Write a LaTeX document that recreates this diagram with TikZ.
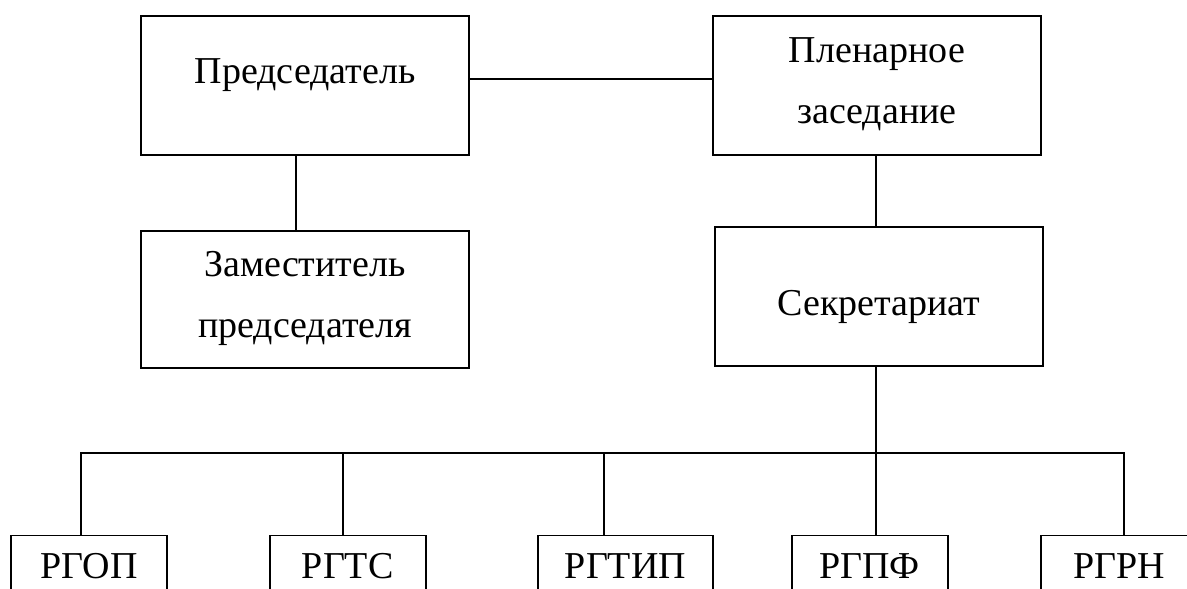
\documentclass[tikz,border=0pt]{standalone}
\usepackage{fontspec}
\setmainfont{Liberation Serif}
\begin{document}
\begin{tikzpicture}[x=1pt,y=-1pt,
  box/.style={draw, line width=1.9pt, inner sep=0pt, font=\fontsize{38}{61}\selectfont},
  link/.style={line width=1.9pt}]
\useasboundingbox (0,0) rectangle (1187,589);
\clip (0,0) rectangle (1187,589);
% upper boxes
\node[box, minimum width=328pt, text height=67pt, text depth=72pt] (pred) at (305,85.5) {Председатель};
\node[box, minimum width=328pt, text height=46pt, text depth=93pt] (plen) at (877,85.5)
  {\begin{tabular}[t]{@{}c@{}}Пленарное\\заседание\end{tabular}};
\node[box, minimum width=328pt, text height=45pt, text depth=92pt] (zam) at (305,299.5)
  {\begin{tabular}[t]{@{}c@{}}Заместитель\\председателя\end{tabular}};
\node[box, minimum width=328pt, text height=88pt, text depth=51pt] (sec) at (879,296.5) {Секретариат};
% working groups
\node[box, minimum width=155.4pt, text height=42.5pt, text depth=80pt] (g1) at (89,596.75) {РГОП};
\node[box, minimum width=156pt, text height=42.5pt, text depth=80pt] (g2) at (347.7,596.75) {РГТС};
\node[box, minimum width=174.4pt, text height=42.5pt, text depth=80pt] (g3) at (625.5,596.75) {РГТИП};
\node[box, minimum width=156pt, text height=42.5pt, text depth=80pt] (g4) at (869.6,596.75) {РГПФ};
\node[box, minimum width=156pt, text height=42.5pt, text depth=80pt] (g5) at (1119,596.75) {РГРН};
% bus points
\coordinate (d1) at (81,453.3);
\coordinate (d2) at (342.7,453.3);
\coordinate (d3) at (604.3,453.3);
\coordinate (d4) at (875.7,453.3);
\coordinate (d5) at (1124.3,453.3);
% connectors
\draw[link] ([yshift=6.5pt]pred.east) -- ([yshift=6.5pt]plen.west);
\draw[link] ([xshift=-9pt]pred.south) -- ([xshift=-9pt]pred.south |- zam.north);
\draw[link] ([xshift=-1pt]plen.south) -- ([xshift=-1pt]plen.south |- sec.north);
\draw[link] (sec.south -| d4) -- (d4);
\draw[link] (d1 |- g1.north) -- (d1) -- (d5) -- (d5 |- g5.north);
\draw[link] (d2) -- (d2 |- g2.north);
\draw[link] (d3) -- (d3 |- g3.north);
\draw[link] (d4) -- (d4 |- g4.north);
\end{tikzpicture}
\end{document}
